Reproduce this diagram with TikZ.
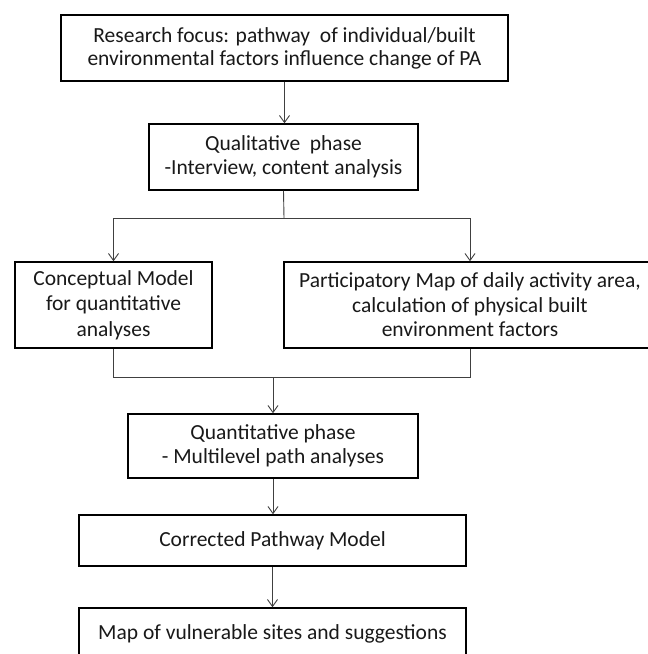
\documentclass[tikz,border=0pt]{standalone}
\usepackage{fontspec}
\setmainfont{Carlito}
\usetikzlibrary{arrows.meta}
\begin{document}
\begin{tikzpicture}[x=1pt,y=-1pt,
  box/.style={draw=black, line width=1.5pt, align=center, inner sep=0pt,
    text=black!90, font=\fontsize{21.5}{24.5}\selectfont},
  conn/.style={draw=black!75, line width=0.9pt},
  arr/.style={conn, -{Straight Barb[length=7pt,width=10pt,line width=0.9pt]}}]
\useasboundingbox (0,0) rectangle (648,654);
\clip (0,0) rectangle (648,654);
\fill[white] (0,0) rectangle (648,654);

\node[box, font=\fontsize{21.5}{23}\selectfont, minimum width=447pt, minimum height=66pt] (focus) at (284.5,48)
  {Research focus: pathway\ \ of individual/built\\environmental factors influence change of PA};
\node[box, minimum width=269pt, minimum height=66pt] (qual) at (283.5,157)
  {Qualitative\ \ phase\\-Interview, content analysis};
\node[box, font=\fontsize{21.5}{25.5}\selectfont, minimum width=197pt, minimum height=86pt] (concept) at (113.5,305)
  {Conceptual Model\\for quantitative\\analyses};
\node[box, font=\fontsize{21.5}{24.5}\selectfont, minimum width=372pt, minimum height=86pt] (partic) at (470,305)
  {Participatory Map of daily activity area,\\calculation of physical built\\environment factors};
\node[box, minimum width=290pt, minimum height=64pt] (quant) at (273,446)
  {Quantitative phase\\- Multilevel path analyses};
\node[box, minimum width=387pt, minimum height=51pt] (corr) at (272.5,540.5)
  {Corrected Pathway Model};
\node[box, minimum width=387pt, minimum height=51pt] (map) at (272.5,633.5)
  {Map of vulnerable sites and suggestions};

\coordinate (fork) at (284,218);
\coordinate (join) at (273,377);

\draw[arr] (focus.south) -- (focus.south |- qual.north);
\draw[conn] (qual.south) -- (fork);
\draw[arr] (fork) -| (concept.north);
\draw[arr] (fork) -| (partic.north);
\draw[conn] (concept.south) -- (concept.south |- join) -- (partic.south |- join) -- (partic.south);
\draw[arr] (join) -- (join |- quant.north);
\draw[arr] (quant.south) -- (quant.south |- corr.north);
\draw[arr] (corr.south) -- (corr.south |- map.north);
\end{tikzpicture}
\end{document}
